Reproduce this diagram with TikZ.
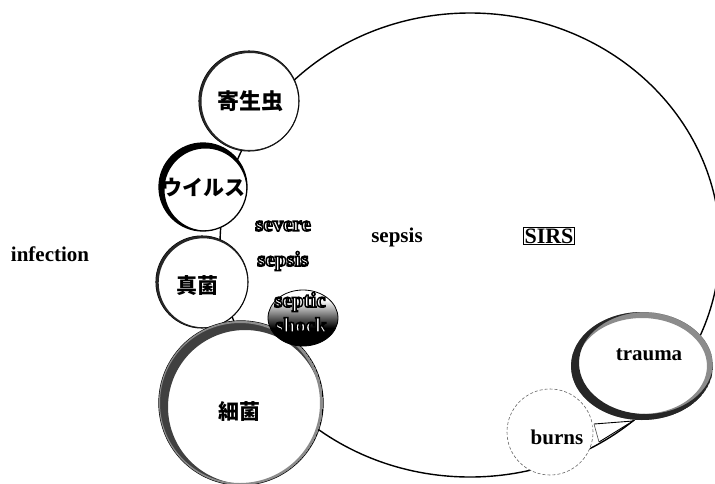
\documentclass[tikz,border=0pt]{standalone}
\usepackage{fontspec}
\setmainfont{Liberation Serif}
\newfontfamily\jpfont{Noto Sans CJK JP}
\usetikzlibrary{calc}
\tikzset{
  lbl/.style={font=\fontsize{21}{24}\selectfont\bfseries, inner sep=1pt},
  jp/.style={font=\jpfont\bfseries\fontsize{21}{24}\selectfont, inner sep=0pt},
  bubble/.style={circle, draw, fill=white, line width=1.3pt, inner sep=0pt},
  hol/.style={font=\fontsize{21}{24}\selectfont\bfseries, inner sep=0pt, text=white},
}
\newcommand\crescent[6]{%
  \begin{scope}
    \clip (#1) circle (#2pt);
    \fill[#6, even odd rule] (#1) circle (#2pt) ([shift={(#4,#5)}]#1) circle (#3pt);
  \end{scope}}
\newcommand\hollow[1]{\special{pdf:literal direct 2 Tr 1.5 w 0 G}#1\special{pdf:literal direct 0 Tr 0 w}}
\begin{document}
\begin{tikzpicture}[x=1pt, y=-1pt]
  \useasboundingbox (0,0) rectangle (715,483);
  \fill[white] (0,0) rectangle (715,483);
  % big bubble
  \begin{scope}
    \clip (0,0) rectangle (715,483);
    \draw[line width=1.4pt, fill=white] (470,245) ellipse [x radius=250pt, y radius=232pt];
  \end{scope}
  \coordinate (bigc) at (470,245);
  % 寄生虫
  \node[bubble, minimum size=100pt, line width=1.1pt] (kiseic) at (249,101) {};
  \crescent{kiseic.center}{50}{48.5}{1}{0.5}{black!85}
  % ウイルス
  \node[bubble, minimum size=88pt] (virc) at (203,187) {};
  \crescent{virc.center}{44}{41}{2.5}{2.5}{black}
  % 真菌
  \node[bubble, minimum size=92pt, line width=1.1pt] (shinc) at (202,282) {};
  \crescent{shinc.center}{46}{44.5}{1.2}{0.8}{black!85}
  % 細菌
  \node[bubble, minimum size=164pt] (saic) at (241,403) {};
  \crescent{saic.center}{82}{77}{4}{4}{black!75}
  \crescent{saic.center}{82}{80}{-1}{0}{black!45}
  % septic shock
  \begin{scope}
    \clip (303,318) ellipse [x radius=35pt, y radius=28pt];
    \shade[top color=white, bottom color=black] (260,300) rectangle (345,328);
    \fill[black] (260,328) rectangle (345,350);
  \end{scope}
  \draw[line width=0.8pt] (303,318) ellipse [x radius=35pt, y radius=28pt];
  \coordinate (shockc) at (303,318);
  % trauma
  \coordinate (traumac) at (642,366);
  \fill[white] (traumac) ellipse [x radius=71pt, y radius=54pt];
  \draw[black!45, line width=6pt] (traumac) ellipse [x radius=68pt, y radius=51pt];
  \begin{scope}
    \clip (traumac) ellipse [x radius=71pt, y radius=54pt];
    \fill[black!85, even odd rule] (traumac) ellipse [x radius=71pt, y radius=54pt]
      ([shift={(4,-3)}]traumac) ellipse [x radius=67pt, y radius=51pt];
  \end{scope}
  % burns
  \node[bubble, minimum size=86pt, draw=black!60, line width=0.6pt, dash pattern=on 3pt off 2pt] (burnsc) at (550,432) {};
  \fill[white] (592,424) -- (633,421) -- (598,442) -- cycle;
  \draw[line width=0.9pt] (594,424) -- (633,421) -- (599,442);
  \draw[line width=0.6pt, black!70] (594,424) -- (599,442);
  % labels
  \node[lbl] (infection) at (50,254) {infection};
  \node[lbl] (sepsis) at (397,237) {sepsis};
  \node[lbl, font=\fontsize{22}{24}\selectfont\bfseries, draw, line width=0.8pt, inner sep=1.2pt] (sirs) at (549,236) {SIRS};
  \node[lbl] (trauma) at (649,355) {trauma};
  \node[lbl] (burns) at (557,437) {burns};
  \node[jp, font=\jpfont\bfseries\fontsize{22}{24}\selectfont] (kisei) at (250,101) {寄生虫};
  \node[jp] (virus) at (203,188) {ウイルス};
  \node[jp] (shinkin) at (197,286) {真菌};
  \node[jp] (saikin) at (239,411) {細菌};
  \node[hol] (severe) at (283,226) {\hollow{severe}};
  \node[hol] (sepsistwo) at (283,261) {\hollow{sepsis}};
  \node[hol] (septic) at (300,302) {\hollow{septic}};
  \node[hol] (shock) at (301,325) {\hollow{shock}};
\end{tikzpicture}
\end{document}
